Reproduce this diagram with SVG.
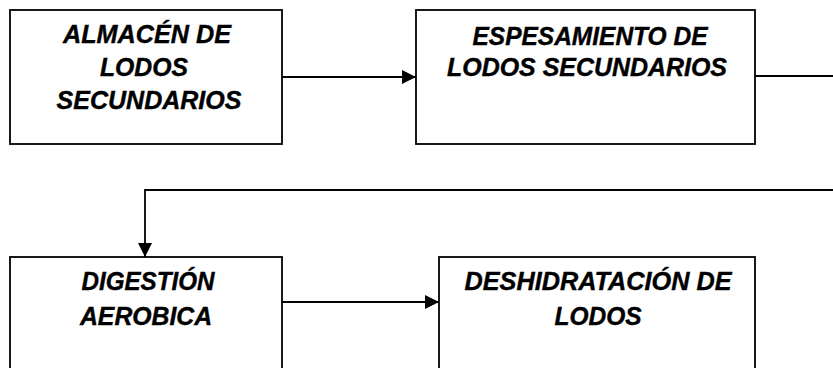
<svg xmlns="http://www.w3.org/2000/svg" width="833" height="368" viewBox="0 0 833 368">
<style>
.box{fill:#fff;stroke:#000;stroke-width:1.8}
.lbl{font-family:"Liberation Sans",Arial,sans-serif;font-weight:bold;font-style:italic;font-size:26px;fill:#000;stroke:#000;stroke-width:0.4;text-anchor:middle}
.con{fill:none;stroke:#000;stroke-width:1.8}
</style>
<defs>
<marker id="ah" viewBox="0 0 14 14" refX="14" refY="7" markerWidth="14" markerHeight="14" markerUnits="userSpaceOnUse" orient="auto">
<path d="M0,0 L14,7 L0,14 Z" fill="#000"/>
</marker>
</defs>
<g id="n1">
<rect class="box" x="10" y="10" width="272" height="134"/>
<text class="lbl" x="147" y="43" textLength="168" lengthAdjust="spacingAndGlyphs">ALMACÉN DE</text>
<text class="lbl" x="144" y="76" textLength="88" lengthAdjust="spacingAndGlyphs">LODOS</text>
<text class="lbl" x="149" y="109" textLength="185" lengthAdjust="spacingAndGlyphs">SECUNDARIOS</text>
</g>
<g id="n2">
<rect class="box" x="416" y="10" width="339" height="134"/>
<text class="lbl" x="590" y="45" textLength="235" lengthAdjust="spacingAndGlyphs">ESPESAMIENTO DE</text>
<text class="lbl" x="587" y="76" textLength="280" lengthAdjust="spacingAndGlyphs">LODOS SECUNDARIOS</text>
</g>
<g id="n3">
<rect class="box" x="10" y="257" width="272" height="130"/>
<text class="lbl" x="148" y="290" textLength="133" lengthAdjust="spacingAndGlyphs">DIGESTIÓN</text>
<text class="lbl" x="146" y="325" textLength="132" lengthAdjust="spacingAndGlyphs">AEROBICA</text>
</g>
<g id="n4">
<rect class="box" x="439" y="257" width="316" height="130"/>
<text class="lbl" x="598" y="290" textLength="267" lengthAdjust="spacingAndGlyphs">DESHIDRATACIÓN DE</text>
<text class="lbl" x="598" y="325" textLength="87" lengthAdjust="spacingAndGlyphs">LODOS</text>
</g>
<g id="connectors">
<line class="con" x1="282" y1="77" x2="416" y2="77" marker-end="url(#ah)"/>
<path class="con" d="M755,76 H833"/>
<path class="con" d="M833,190 H145 V257" marker-end="url(#ah)"/>
<line class="con" x1="282" y1="302" x2="439" y2="302" marker-end="url(#ah)"/>
</g>
</svg>
